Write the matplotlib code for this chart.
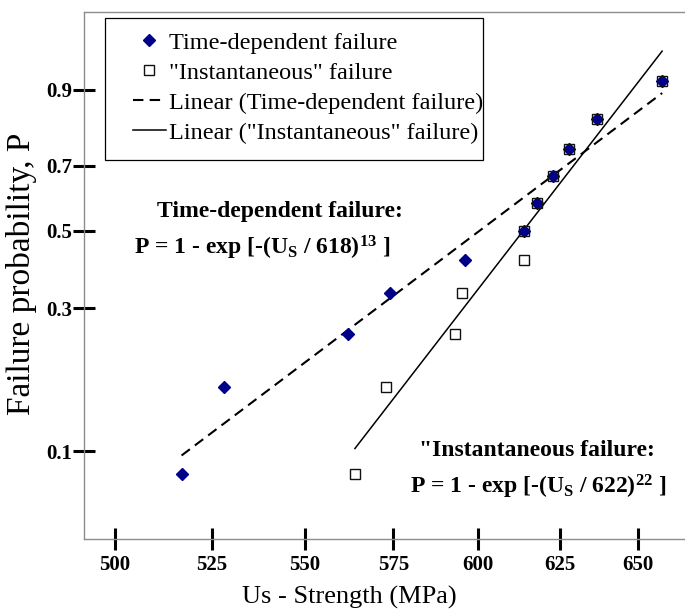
import numpy as np
import matplotlib
matplotlib.use("Agg")
import matplotlib.pyplot as plt
from matplotlib.patches import Rectangle

# ---- data ----
time_dep_strength = [517, 528, 562, 574, 596, 614, 618, 623, 628, 637, 658]
time_dep_prob = [0.083, 0.167, 0.25, 0.333, 0.417, 0.5, 0.583, 0.667, 0.75, 0.833, 0.917]
inst_strength = [564, 573, 593, 595, 614, 614, 618, 623, 628, 637, 658]
inst_prob = [0.083, 0.167, 0.25, 0.333, 0.417, 0.5, 0.583, 0.667, 0.75, 0.833, 0.917]

x_ticks = [500, 525, 550, 575, 600, 625, 650]
x_ticklabels = ["500", "525", "550", "575", "600", "625", "650"]
y_ticks = [0.1, 0.3, 0.5, 0.7, 0.9]
y_ticklabels = ["0.1", "0.3", "0.5", "0.7", "0.9"]

legend_labels = ["Time-dependent failure", '"Instantaneous" failure',
                 "Linear (Time-dependent failure)", 'Linear ("Instantaneous" failure)']

plt.rcParams["font.family"] = ["Liberation Serif", "DejaVu Serif"]
plt.rcParams["mathtext.fontset"] = "custom"
plt.rcParams["mathtext.rm"] = "Liberation Serif:bold"
plt.rcParams["mathtext.it"] = "Liberation Serif:bold"
plt.rcParams["mathtext.bf"] = "Liberation Serif:bold"
plt.rcParams["mathtext.default"] = "rm"


def weibull_fwd(p):
    p = np.asarray(p, dtype=float)
    with np.errstate(all="ignore"):
        return np.log(-np.log(1.0 - p))


def weibull_inv(w):
    w = np.asarray(w, dtype=float)
    with np.errstate(all="ignore"):
        return 1.0 - np.exp(-np.exp(w))


W, H = 685, 609
fig = plt.figure(figsize=(W / 100, H / 100), dpi=100)
ax = fig.add_axes([84 / W, 1 - 539 / H, 601 / W, 527 / H])
ax.set_xscale("log")
ax.set_yscale("function", functions=(weibull_fwd, weibull_inv))


def trend(xs, ps):
    lx = np.log(np.asarray(xs, float))
    wy = weibull_fwd(ps)
    k, b = np.polyfit(lx, wy, 1)
    xx = np.linspace(lx.min(), lx.max(), 50)
    return np.exp(xx), weibull_inv(k * xx + b)


tx, ty = trend(time_dep_strength, time_dep_prob)
ix, iy = trend(inst_strength, inst_prob)

h1, = ax.plot(time_dep_strength, time_dep_prob, ls="none", marker="D", ms=6.0,
              mfc="#00008B", mec="#00008B", zorder=3)
h2, = ax.plot(inst_strength, inst_prob, ls="none", marker="s", ms=6.6,
              mfc="none", mec="#111111", mew=1.0, zorder=4)
h3, = ax.plot(tx, ty, color="black", lw=1.5, ls=(0, (5, 3)), zorder=2)
h4, = ax.plot(ix, iy, color="black", lw=1.1, ls="-", zorder=2)

ax.set_xlim(492.3, 665.6)
ax.set_ylim(0.0486, 0.9886)

ax.set_xticks(x_ticks, x_ticklabels, fontweight="bold", fontsize=15)
ax.set_yticks(y_ticks, y_ticklabels, fontweight="bold", fontsize=15)
ax.xaxis.set_minor_locator(matplotlib.ticker.NullLocator())
ax.yaxis.set_minor_locator(matplotlib.ticker.NullLocator())
ax.tick_params(axis="x", direction="inout", length=16, width=2.2, color="black", pad=3.5)
ax.tick_params(axis="y", direction="inout", length=16, width=2.2, color="black", pad=0.5)

for s in ["left", "bottom", "top"]:
    ax.spines[s].set_color("#8c8c8c")
    ax.spines[s].set_linewidth(1.0)
ax.spines["right"].set_visible(False)

# axis titles
fig.text(349 / W, 1 - 597 / H, "Us - Strength (MPa)", ha="center", va="center", fontsize=19)
fig.text(22 / W, 1 - 274 / H, "Failure probability, P", ha="center", va="center",
         rotation=90, fontsize=24)

# legend
fig.add_artist(Rectangle((105 / W, 1 - 160 / H), 378 / W, 142 / H, transform=fig.transFigure,
                         fill=False, edgecolor="black", lw=0.9))
fig.legend([h1, h2, h3, h4], legend_labels, loc="upper left",
           bbox_to_anchor=(133 / W, 1 - 31.5 / H), bbox_transform=fig.transFigure,
           frameon=False, borderpad=0, borderaxespad=0, handlelength=1.35,
           handletextpad=0.15, labelspacing=0.33, fontsize=17.5, numpoints=1)

# annotations
fig.text(280 / W, 1 - 217 / H, "Time-dependent failure:", ha="center", va="baseline",
         fontsize=17, fontweight="bold")
fig.text(262 / W, 1 - 255 / H, r"P = 1 - exp [-(U$_{S}$ / 618)$^{13}$ ]", ha="center",
         va="baseline", fontsize=17, fontweight="bold")
fig.text(537 / W, 1 - 456.5 / H, '"Instantaneous failure:', ha="center", va="baseline",
         fontsize=17, fontweight="bold")
fig.text(538 / W, 1 - 493.5 / H, r"P = 1 - exp [-(U$_{S}$ / 622)$^{22}$ ]", ha="center",
         va="baseline", fontsize=17, fontweight="bold")

fig.savefig("out.png", dpi=100)
